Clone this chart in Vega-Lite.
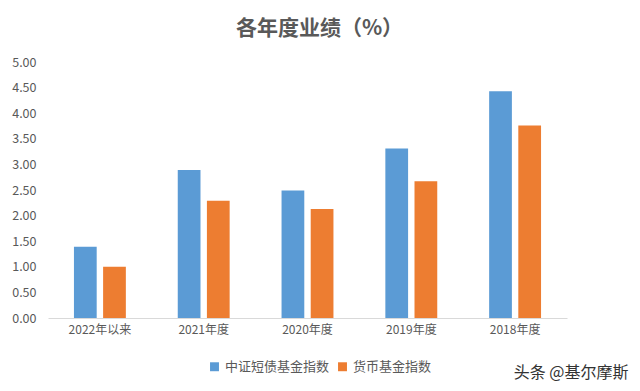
{
  "$schema": "https://vega.github.io/schema/vega-lite/v6.json",
  "autosize": {"type": "none"},
  "width": 519,
  "height": 256,
  "padding": {"left": 48, "top": 62, "right": 73, "bottom": 73},
  "background": "#ffffff",
  "title": {
    "text": "各年度业绩（%）",
    "font": "Noto Sans CJK SC",
    "fontSize": 21,
    "fontWeight": "bold",
    "color": "#595959",
    "anchor": "middle",
    "offset": 17,
    "dx": 12
  },
  "data": {
    "values": [
      {"period": "2022年以来", "series": "中证短债基金指数", "value": 1.39},
      {"period": "2022年以来", "series": "货币基金指数", "value": 1.00},
      {"period": "2021年度", "series": "中证短债基金指数", "value": 2.89},
      {"period": "2021年度", "series": "货币基金指数", "value": 2.29},
      {"period": "2020年度", "series": "中证短债基金指数", "value": 2.49},
      {"period": "2020年度", "series": "货币基金指数", "value": 2.13},
      {"period": "2019年度", "series": "中证短债基金指数", "value": 3.31},
      {"period": "2019年度", "series": "货币基金指数", "value": 2.67},
      {"period": "2018年度", "series": "中证短债基金指数", "value": 4.43},
      {"period": "2018年度", "series": "货币基金指数", "value": 3.76}
    ]
  },
  "mark": {"type": "bar"},
  "encoding": {
    "x": {
      "field": "period",
      "type": "nominal",
      "sort": null,
      "scale": {"paddingInner": 0.5, "paddingOuter": 0.25},
      "axis": {
        "title": "头条 @基尔摩斯",
        "titleFont": "Noto Sans CJK SC",
        "titleFontSize": 16,
        "titleFontWeight": "normal",
        "titleColor": "#333333",
        "titleAnchor": "end",
        "titleAlign": "right",
        "titleX": 580,
        "titleY": 46,
        "labelAngle": 0,
        "labelFont": "Noto Sans CJK SC",
        "labelFontSize": 12,
        "labelColor": "#595959",
        "labelPadding": 6,
        "ticks": false,
        "domainColor": "#d9d9d9"
      }
    },
    "xOffset": {
      "field": "series",
      "sort": ["中证短债基金指数", "货币基金指数"],
      "scale": {"paddingInner": 0.22}
    },
    "y": {
      "field": "value",
      "type": "quantitative",
      "scale": {"domain": [0, 5]},
      "axis": {
        "title": null,
        "values": [0, 0.5, 1, 1.5, 2, 2.5, 3, 3.5, 4, 4.5, 5],
        "format": ".2f",
        "labelFont": "Noto Sans CJK SC",
        "labelFontSize": 12.5,
        "labelColor": "#595959",
        "labelPadding": 12,
        "ticks": false,
        "domain": false,
        "grid": false
      }
    },
    "color": {
      "field": "series",
      "type": "nominal",
      "sort": ["中证短债基金指数", "货币基金指数"],
      "scale": {"range": ["#5B9BD5", "#ED7D31"]},
      "legend": {
        "title": null,
        "orient": "none",
        "direction": "horizontal",
        "legendX": 160,
        "legendY": 298,
        "symbolType": "square",
        "symbolSize": 80,
        "symbolStrokeWidth": 0,
        "labelFont": "Noto Sans CJK SC",
        "labelFontSize": 13,
        "labelColor": "#595959",
        "labelOffset": 4,
        "columnPadding": 6
      }
    }
  },
  "config": {"view": {"stroke": null}}
}
